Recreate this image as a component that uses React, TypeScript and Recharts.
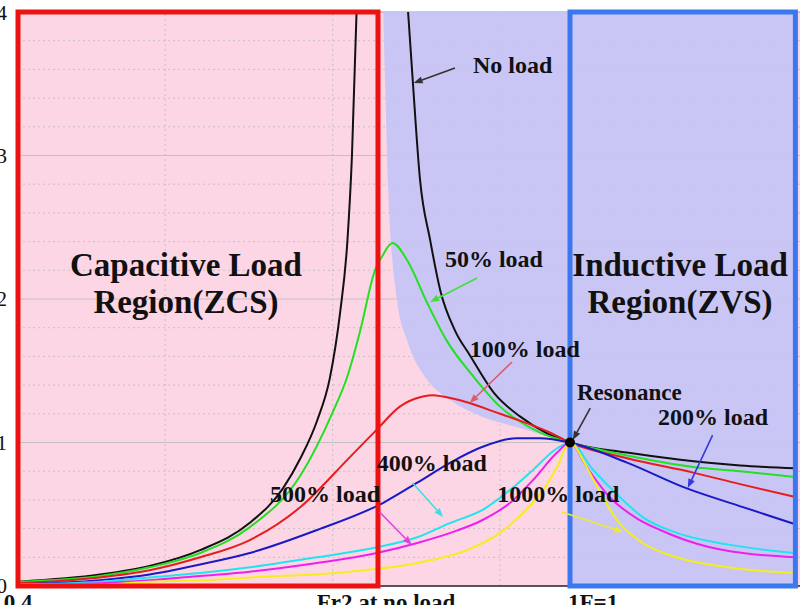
import React from 'react';
import {
  ComposedChart,
  Line,
  Area,
  XAxis,
  YAxis,
  CartesianGrid,
  ReferenceArea,
  ReferenceLine,
  ReferenceDot,
} from 'recharts';

const FONT = '"Liberation Serif", "Times New Roman", serif';

// ---------- data (normalized frequency, gain) ----------
const noLoadLowF = [0.4, 0.489, 0.543, 0.598, 0.652, 0.688, 0.707, 0.725, 0.739, 0.75, 0.758, 0.763, 0.768];
const noLoadLowG = [0.03, 0.08, 0.14, 0.25, 0.44, 0.68, 0.89, 1.15, 1.45, 1.9, 2.4, 3.0, 4.0];

const noLoadHighF = [0.824, 0.829, 0.837, 0.848, 0.859, 0.875, 0.891, 0.918, 0.946, 0.973, 1.0, 1.062, 1.12, 1.185, 1.245];
const noLoadHighG = [4.0, 3.53, 2.83, 2.41, 2.06, 1.78, 1.61, 1.34, 1.18, 1.07, 1.0, 0.93, 0.88, 0.84, 0.82];

const load50F = [0.4, 0.489, 0.543, 0.598, 0.652, 0.707, 0.742, 0.758, 0.772, 0.788, 0.796, 0.807, 0.823, 0.845, 0.866, 0.895, 0.924, 0.942, 0.967, 1.0, 1.062, 1.134, 1.185, 1.245];
const load50G = [0.03, 0.07, 0.13, 0.23, 0.41, 0.77, 1.21, 1.46, 1.78, 2.2, 2.3, 2.39, 2.27, 1.97, 1.71, 1.46, 1.25, 1.16, 1.07, 1.0, 0.91, 0.83, 0.8, 0.76];

const load100F = [0.4, 0.489, 0.543, 0.598, 0.652, 0.707, 0.761, 0.79, 0.815, 0.84, 0.851, 0.862, 0.888, 0.924, 0.942, 0.978, 1.0, 1.062, 1.134, 1.185, 1.245];
const load100G = [0.02, 0.06, 0.11, 0.2, 0.32, 0.55, 0.9, 1.09, 1.25, 1.32, 1.33, 1.32, 1.28, 1.2, 1.16, 1.07, 1.0, 0.89, 0.79, 0.71, 0.62];

const load200F = [0.4, 0.489, 0.543, 0.598, 0.652, 0.725, 0.797, 0.834, 0.87, 0.905, 0.942, 0.967, 1.0, 1.062, 1.127, 1.188, 1.245];
const load200G = [0.01, 0.04, 0.08, 0.15, 0.23, 0.39, 0.58, 0.72, 0.86, 0.97, 1.03, 1.03, 1.0, 0.86, 0.68, 0.55, 0.43];

const load400F = [0.4, 0.489, 0.543, 0.598, 0.652, 0.725, 0.79, 0.834, 0.87, 0.905, 0.935, 0.96, 0.986, 1.0, 1.025, 1.054, 1.079, 1.116, 1.171, 1.245];
const load400G = [0.01, 0.03, 0.06, 0.09, 0.13, 0.2, 0.27, 0.34, 0.44, 0.53, 0.67, 0.81, 0.96, 1.0, 0.81, 0.62, 0.48, 0.37, 0.29, 0.23];

const load500F = [0.4, 0.489, 0.543, 0.598, 0.652, 0.725, 0.79, 0.834, 0.87, 0.905, 0.935, 0.96, 0.986, 1.0, 1.018, 1.043, 1.073, 1.098, 1.152, 1.245];
const load500G = [0.01, 0.02, 0.04, 0.07, 0.1, 0.16, 0.23, 0.3, 0.37, 0.46, 0.58, 0.74, 0.93, 1.0, 0.83, 0.62, 0.47, 0.39, 0.27, 0.2];

const load1000F = [0.4, 0.489, 0.543, 0.598, 0.652, 0.761, 0.834, 0.888, 0.924, 0.949, 0.971, 0.986, 1.0, 1.018, 1.033, 1.051, 1.079, 1.116, 1.171, 1.245];
const load1000G = [0.01, 0.01, 0.03, 0.04, 0.06, 0.1, 0.16, 0.25, 0.37, 0.51, 0.67, 0.83, 1.0, 0.83, 0.65, 0.46, 0.3, 0.2, 0.13, 0.09];

// boundary of the inductive (ZVS) region between Fr2 and Fr1
const zvsBoundaryF = [0.797, 0.799, 0.802, 0.812, 0.823, 0.845, 0.87, 0.905, 0.942, 0.978, 1.0];
const zvsBoundaryG = [4.0, 3.5, 2.83, 1.99, 1.71, 1.436, 1.296, 1.178, 1.108, 1.038, 1.0];

// axes
const xTickValues = [0.4, 0.8, 1.0];
const xTickLabels = ['0.4', 'Fr2 at no load', '1F=1'];
const yTickValues = [0, 1, 2, 3, 4];
const yMajorGrid = [1, 2, 3];
const yMinorGrid = [0.2, 0.4, 0.6, 0.8, 1.2, 1.4, 1.6, 1.8, 2.2, 2.4, 2.6, 2.8, 3.2, 3.4, 3.6, 3.8];
const xMinorGrid = [0.56, 0.742, 0.924];

const FR2 = 0.7913;
const FR1 = 1.0;
const F_MAX = 1.245;

// ---------- helpers ----------
const zip = (f: number[], g: number[]) => f.map((x, i) => ({ x, y: g[i] }));

const seriesList = [
  { key: 'noLoadLow', data: zip(noLoadLowF, noLoadLowG), color: '#111111' },
  { key: 'noLoadHigh', data: zip(noLoadHighF, noLoadHighG), color: '#111111' },
  { key: 'load50', data: zip(load50F, load50G), color: '#22e022' },
  { key: 'load100', data: zip(load100F, load100G), color: '#e81c1c' },
  { key: 'load200', data: zip(load200F, load200G), color: '#1a1ac4' },
  { key: 'load400', data: zip(load400F, load400G), color: '#20e4f0' },
  { key: 'load500', data: zip(load500F, load500G), color: '#ee20ee' },
  { key: 'load1000', data: zip(load1000F, load1000G), color: '#f4ee1c' },
];

const zvsData = zvsBoundaryF.map((x, i) => ({ x, range: [zvsBoundaryG[i], 4] }));

// annotation texts (data coordinates)
const textNotes = [
  { text: 'No load', x: 0.8946, y: 3.575, size: 24, anchor: 'start' },
  { text: '50% load', x: 0.864, y: 2.223, size: 24, anchor: 'start' },
  { text: '100% load', x: 0.891, y: 1.596, size: 24, anchor: 'start' },
  { text: 'Resonance', x: 1.0076, y: 1.296, size: 23, anchor: 'start' },
  { text: '200% load', x: 1.0957, y: 1.122, size: 24, anchor: 'start' },
  { text: '400% load', x: 0.79, y: 0.801, size: 24, anchor: 'start' },
  { text: '500% load', x: 0.674, y: 0.585, size: 24, anchor: 'start' },
  { text: '1000% load', x: 0.921, y: 0.585, size: 24, anchor: 'start' },
  { text: 'Capacitive Load', x: 0.5826, y: 2.16, size: 33, anchor: 'middle' },
  { text: 'Region(ZCS)', x: 0.5826, y: 1.905, size: 33, anchor: 'middle' },
  { text: 'Inductive Load', x: 1.1196, y: 2.16, size: 33, anchor: 'middle' },
  { text: 'Region(ZVS)', x: 1.1196, y: 1.9, size: 33, anchor: 'middle' },
];

const arrowNotes = [
  { from: [0.875, 3.61], to: [0.83, 3.505], color: '#333333' },
  { from: [0.899, 2.146], to: [0.848, 1.979], color: '#44dd44' },
  { from: [0.937, 1.561], to: [0.891, 1.275], color: '#e05a6a' },
  { from: [1.022, 1.24], to: [1.003, 1.017], color: '#333333' },
  { from: [1.155, 1.052], to: [1.128, 0.683], color: '#3838dd' },
  { from: [0.829, 0.718], to: [0.862, 0.481], color: '#40dde0' },
  { from: [0.793, 0.516], to: [0.828, 0.286], color: '#dd44dd' },
  { from: [0.991, 0.516], to: [1.058, 0.376], color: '#eeea30' },
];

const makeArrow = (color: string) => (p: any) => {
  const { x1, y1, x2, y2 } = p;
  const ang = Math.atan2(y2 - y1, x2 - x1);
  const L = 9;
  const W = 3.5;
  const bx = x2 - L * Math.cos(ang);
  const by = y2 - L * Math.sin(ang);
  const px = -Math.sin(ang) * W;
  const py = Math.cos(ang) * W;
  return (
    <g>
      <line x1={x1} y1={y1} x2={bx} y2={by} stroke={color} strokeWidth={1.6} />
      <polygon points={`${x2},${y2} ${bx + px},${by + py} ${bx - px},${by - py}`} fill={color} />
    </g>
  );
};

const makeText = (t: any) => (p: any) => (
  <text
    x={p.cx}
    y={p.cy}
    textAnchor={t.anchor}
    fontFamily={FONT}
    fontWeight="bold"
    fontSize={t.size}
    fill="#111"
  >
    {t.text}
  </text>
);

const XTick = (props: any) => {
  const { x, y, payload } = props;
  const i = xTickValues.indexOf(payload.value);
  const label = xTickLabels[i] ?? '';
  const anchor = i === 2 ? 'start' : 'middle';
  return (
    <text
      x={i === 2 ? x - 2 : x}
      y={y}
      dy="0.71em"
      textAnchor={anchor}
      fontFamily={FONT}
      fontWeight="bold"
      fontSize={23}
      fill="#111"
    >
      {label}
    </text>
  );
};

export default function App() {
  return (
    <div style={{ position: 'absolute', left: 0, top: 0, width: 800, height: 605, background: '#fff' }}>
      <ComposedChart width={800} height={605} margin={{ top: 12, right: 0, bottom: 0, left: 0 }}>
        <CartesianGrid fill="#fdd6e6" stroke="none" horizontal={false} vertical={false} zIndex={-100} />
        {yMinorGrid.map((v) => (
          <ReferenceLine key={'ym' + v} y={v} stroke="#c8c0c4" strokeDasharray="2 3" zIndex={-95} />
        ))}
        {xMinorGrid.map((v) => (
          <ReferenceLine key={'xm' + v} x={v} stroke="#c8c0c4" strokeDasharray="2 3" zIndex={-95} />
        ))}
        {yMajorGrid.map((v) => (
          <ReferenceLine key={'yM' + v} y={v} stroke="#c4c0c2" zIndex={-94} />
        ))}
        <ReferenceLine y={4} stroke="#9a9a9a" zIndex={-94} />
        <Area
          data={zvsData}
          dataKey="range"
          type="monotone"
          fill="#c5c5f5"
          fillOpacity={0.93}
          stroke="none"
          dot={false}
          activeDot={false}
          isAnimationActive={false}
          zIndex={-80}
        />
        <ReferenceArea
          x1={FR1}
          x2={F_MAX}
          y1={0}
          y2={4}
          fill="#c5c5f5"
          fillOpacity={0.93}
          stroke="none"
          zIndex={-80}
        />
        <XAxis
          type="number"
          dataKey="x"
          domain={[0.4, 1.25]}
          allowDataOverflow
          ticks={xTickValues}
          tick={<XTick />}
          tickLine={false}
          axisLine={{ stroke: '#222', strokeWidth: 1.5 }}
          height={19}
          interval={0}
          zIndex={300}
        />
        <YAxis
          type="number"
          domain={[0, 4]}
          allowDataOverflow
          ticks={yTickValues}
          width={18}
          tickLine={false}
          axisLine={false}
          tickMargin={5}
          tick={{ fontSize: 21, fill: '#111', fontFamily: FONT }}
          zIndex={300}
        />
        {seriesList.map((s) => (
          <Line
            key={s.key}
            data={s.data}
            dataKey="y"
            type="monotone"
            stroke={s.color}
            strokeWidth={2}
            dot={false}
            activeDot={false}
            isAnimationActive={false}
            zIndex={400}
          />
        ))}
        <ReferenceArea
          x1={0.4}
          x2={FR2}
          y1={0}
          y2={4}
          fill="none"
          fillOpacity={0}
          stroke="#ee1111"
          strokeWidth={5}
          zIndex={450}
        />
        <ReferenceArea
          x1={FR1}
          x2={F_MAX}
          y1={0}
          y2={4}
          fill="none"
          fillOpacity={0}
          stroke="#3a78f0"
          strokeWidth={5}
          zIndex={450}
        />
        {arrowNotes.map((a, i) => (
          <ReferenceLine
            key={'ar' + i}
            segment={[
              { x: a.from[0], y: a.from[1] },
              { x: a.to[0], y: a.to[1] },
            ]}
            stroke={a.color}
            shape={makeArrow(a.color)}
            zIndex={500}
          />
        ))}
        <ReferenceDot x={FR1} y={1} r={5} fill="#000" stroke="none" zIndex={600} />
        {textNotes.map((t, i) => (
          <ReferenceDot key={'tx' + i} x={t.x} y={t.y} r={0} shape={makeText(t)} zIndex={600} />
        ))}
      </ComposedChart>
    </div>
  );
}
